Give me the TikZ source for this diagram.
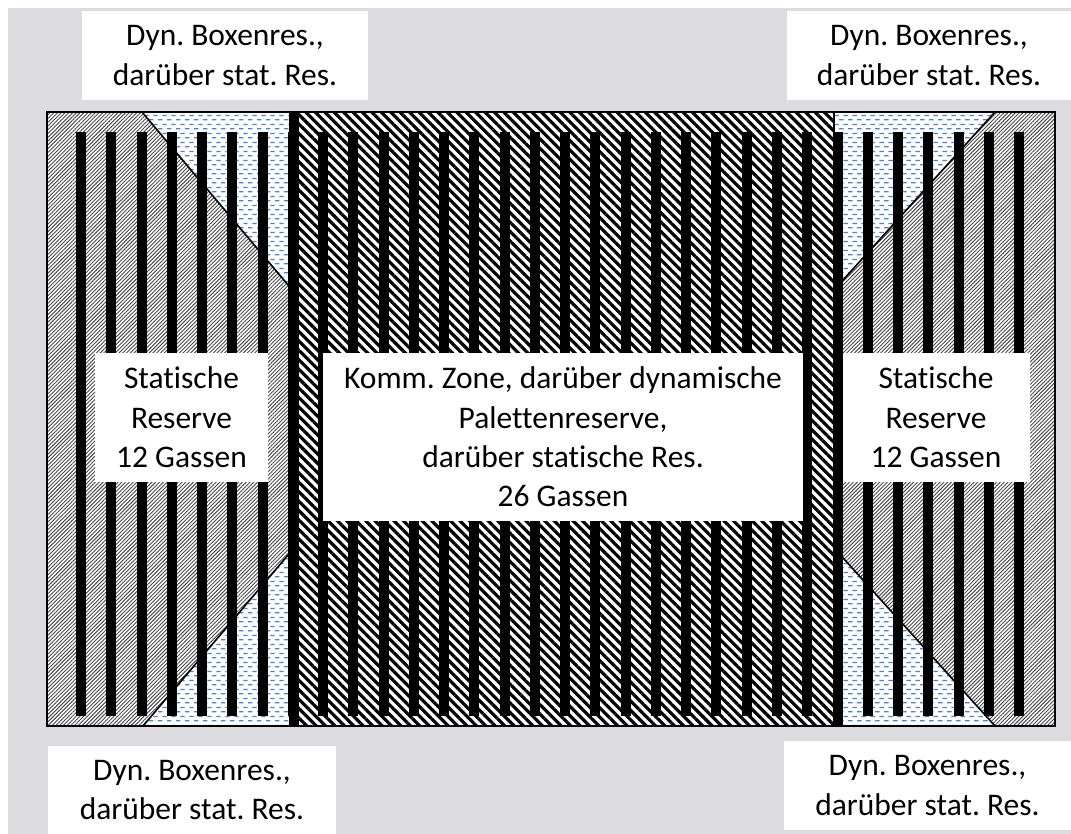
\documentclass[tikz,border=0pt]{standalone}
\usepackage{fontspec}
\setmainfont{Carlito}[Ligatures=NoCommon]
\usepackage{xcolor}
\usepackage{tikz}
\usetikzlibrary{patterns,patterns.meta}
\definecolor{bg}{HTML}{DCDBDF}
\definecolor{fine}{HTML}{4A4A4A}
\definecolor{dash}{HTML}{4F81C7}
\newcommand{\lblfont}{\fontsize{23.6pt}{29.5pt}\selectfont}
\pgfdeclarepatternformonly{bluedash}{\pgfpointorigin}{\pgfpoint{7pt}{7pt}}{\pgfpoint{7pt}{7pt}}{%
  \pgfsetlinewidth{1pt}%
  \pgfpathmoveto{\pgfpoint{0pt}{1.75pt}}\pgfpathlineto{\pgfpoint{3.6pt}{1.75pt}}%
  \pgfpathmoveto{\pgfpoint{3.5pt}{5.25pt}}\pgfpathlineto{\pgfpoint{7pt}{5.25pt}}%
  \pgfusepath{stroke}}
\tikzset{
  reserve/.style={preaction={fill=white}, pattern={Lines[angle=45,distance=2pt,line width=0.7pt]}, pattern color=fine},
  komm/.style={preaction={fill=white}, pattern={Lines[angle=-45,distance=5pt,line width=2.4pt]}, pattern color=black},
  boxres/.style={preaction={fill=white}, pattern=bluedash, pattern color=dash},
  cut/.style={line width=1.2pt},
  lbl/.style={fill=white, inner sep=0pt, align=center, font=\lblfont}
}

\begin{document}
\frenchspacing
\begin{tikzpicture}[x=0.75pt, y=-0.75pt]
  % page and grey ground
  \fill[white] (0,0) rectangle (1071,834);
  \useasboundingbox (0,0) rectangle (1071,834);
  \fill[bg] (8,8) rectangle (1071,834);

  % zones
  \path[reserve] (47,112) rectangle (294,726);
  \path[boxres] (142,112) -- (294,112) -- (294,292) -- cycle;
  \path[boxres] (143,726) -- (294,726) -- (294,548) -- cycle;
  \path[komm] (294,112) rectangle (834,726);
  \path[reserve] (834,112) rectangle (1055,726);
  \path[boxres] (834,112) -- (995,112) -- (834,290) -- cycle;
  \path[boxres] (834,548) -- (834,726) -- (995,726) -- cycle;
  \draw[cut] (142,112) -- (294,292);
  \draw[cut] (143,726) -- (294,548);
  \draw[cut] (995,112) -- (834,290);
  \draw[cut] (834,548) -- (995,726);
  \draw[line width=0.8pt] (834,112) -- (834,726);

  % aisles
  \foreach \i in {0,...,31}
    \fill (81+30.26*\i-5,132) rectangle ++(10,584);
  \fill (288.8,112) rectangle (298.8,726);
  \fill (832.5,716) rectangle (842.5,726);

  \draw[line width=2pt] (47,112) rectangle (1055,726);

  % labels
  \node[lbl, minimum width=214.5pt, minimum height=66.75pt] (boxTL) at (225,55.5)
    {Dyn. Boxenres.,\\darüber stat. Res.};
  \node[lbl, minimum width=213pt, minimum height=66.75pt] (boxTR) at (929,55.5)
    {Dyn. Boxenres.,\\darüber stat. Res.};
  \node[lbl, minimum width=216pt, minimum height=66pt] (boxBL) at (192,790)
    {Dyn. Boxenres.,\\darüber stat. Res.};
  \node[lbl, minimum width=215.25pt, minimum height=66.75pt] (boxBR) at (927.5,785.5)
    {Dyn. Boxenres.,\\darüber stat. Res.};
  \node[lbl, minimum width=129.75pt, minimum height=96.75pt] (statL) at (181.5,417.5)
    {Statische\\Reserve\\12 Gassen};
  \node[lbl, minimum width=360pt, minimum height=126pt] (komm) at (563,437)
    {Komm. Zone, darüber dynamische\\Palettenreserve,\\darüber statische Res.\\26 Gassen};
  \node[lbl, minimum width=140.25pt, minimum height=96.75pt] (statR) at (936,417.5)
    {Statische\\Reserve\\12 Gassen};
\end{tikzpicture}
\end{document}
